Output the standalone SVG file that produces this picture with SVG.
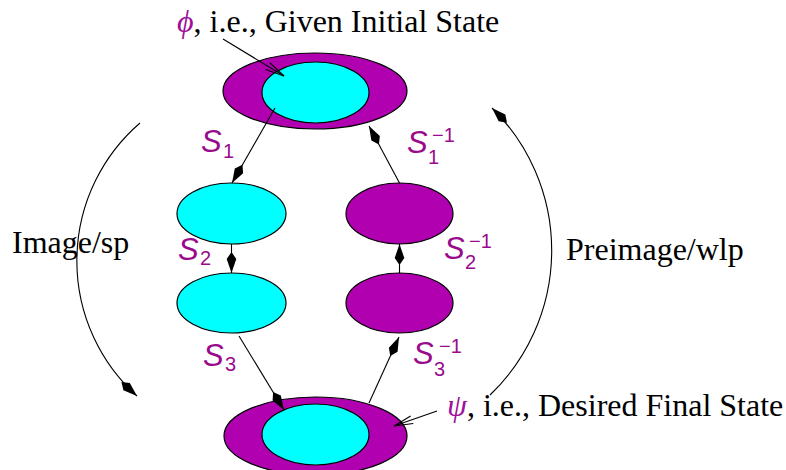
<svg xmlns="http://www.w3.org/2000/svg" width="786" height="470" viewBox="0 0 786 470">
<defs>
<style>
.outer{fill:#b000b0;stroke:#000;stroke-width:1.2}
.inner{fill:#00ffff;stroke:#000;stroke-width:1.2}
.mag{fill:#b000b0;stroke:#000;stroke-width:1.2}
.cy{fill:#00ffff;stroke:#000;stroke-width:1.2}
.conn{fill:none;stroke:#000;stroke-width:1.1}
.serif{font-family:"Liberation Serif","DejaVu Serif",serif;font-size:32px;fill:#000}
.greek{font-family:"Liberation Serif","DejaVu Serif",serif;font-style:italic;fill:#a0109a}
.lbl{font-family:"Liberation Sans","DejaVu Sans",sans-serif;fill:#9a0a8c}
.S{font-size:31px;font-style:italic}
.idx{font-size:20px}
</style>
<marker id="kite" viewBox="-22 -6 23 12" refX="0" refY="0" markerWidth="23" markerHeight="12" markerUnits="userSpaceOnUse" orient="auto">
<path d="M0,0 L-14,-4.8 L-21,0 L-14,4.8 Z" fill="#000"/>
</marker>
<marker id="open" viewBox="-20 -6 21 12" refX="0" refY="0" markerWidth="21" markerHeight="12" markerUnits="userSpaceOnUse" orient="auto">
<path d="M-19,-4 L0,0 L-19,4" fill="none" stroke="#000" stroke-width="1.1"/>
</marker>
</defs>
<rect width="786" height="470" fill="#fff"/>

<g id="initial">
<ellipse class="outer" cx="315" cy="91" rx="92" ry="38"/>
<ellipse class="inner" cx="315.5" cy="92.5" rx="53.5" ry="30.5"/>
</g>
<g id="img1">
<ellipse class="cy" cx="231.5" cy="213.5" rx="54.5" ry="30.5"/>
</g>
<g id="img2">
<ellipse class="cy" cx="231.5" cy="303" rx="54.5" ry="30"/>
</g>
<g id="pre1">
<ellipse class="mag" cx="399.5" cy="213.5" rx="53.5" ry="30.5"/>
</g>
<g id="pre2">
<ellipse class="mag" cx="399.5" cy="303" rx="53.5" ry="30"/>
</g>
<g id="final">
<ellipse class="outer" cx="315.5" cy="436" rx="91.5" ry="39"/>
<ellipse class="inner" cx="315.5" cy="434.5" rx="53.5" ry="30.5"/>
</g>

<g id="connectors">
<line class="conn" x1="275" y1="108" x2="232" y2="183" marker-end="url(#kite)"/>
<line class="conn" x1="399.5" y1="183" x2="369" y2="126" marker-end="url(#kite)"/>
<line class="conn" x1="231.5" y1="244" x2="231.5" y2="273" marker-end="url(#kite)"/>
<line class="conn" x1="399.5" y1="273" x2="399.5" y2="244" marker-end="url(#kite)"/>
<line class="conn" x1="239" y1="336" x2="284" y2="410" marker-end="url(#kite)"/>
<line class="conn" x1="369" y1="403" x2="399" y2="337" marker-end="url(#kite)"/>
<path class="conn" d="M140,123 A182,182 0 0 0 137,396" marker-end="url(#kite)"/>
<path class="conn" d="M490,395 A200,200 0 0 0 492,108" marker-end="url(#kite)"/>
<line class="conn" x1="223" y1="39" x2="284" y2="76" marker-end="url(#open)"/>
<line class="conn" x1="437" y1="411" x2="394" y2="426" marker-end="url(#open)"/>
</g>

<g id="labels">
<text class="serif" x="177" y="32"><tspan class="greek">ϕ</tspan>, i.e., Given Initial State</text>
<text class="serif" x="447" y="416"><tspan class="greek">ψ</tspan>, i.e., Desired Final State</text>
<text class="serif" x="12" y="253">Image/sp</text>
<text class="serif" x="566" y="260">Preimage/wlp</text>

<text class="lbl S" x="201" y="152">S</text>
<text class="lbl idx" x="223" y="158">1</text>
<text class="lbl S" x="407" y="153">S</text>
<text class="lbl idx" x="428" y="164">1</text>
<text class="lbl idx" x="432" y="142">−1</text>

<text class="lbl S" x="178" y="260">S</text>
<text class="lbl idx" x="200" y="265">2</text>
<text class="lbl S" x="444" y="259">S</text>
<text class="lbl idx" x="465" y="269">2</text>
<text class="lbl idx" x="469" y="248">−1</text>

<text class="lbl S" x="203" y="366">S</text>
<text class="lbl idx" x="225" y="371">3</text>
<text class="lbl S" x="413" y="364">S</text>
<text class="lbl idx" x="434" y="376">3</text>
<text class="lbl idx" x="439" y="353">−1</text>
</g>
</svg>
